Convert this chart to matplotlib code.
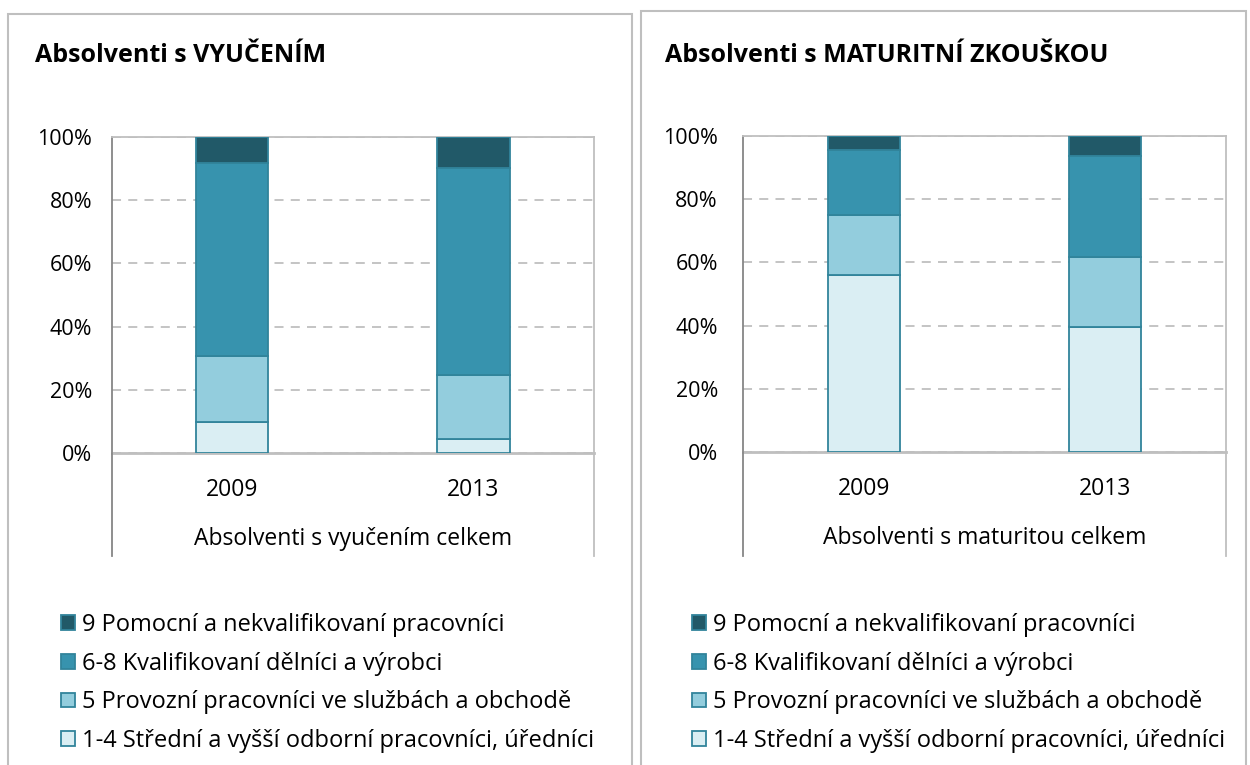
import matplotlib
matplotlib.use("Agg")
import matplotlib.pyplot as plt
from matplotlib.patches import Patch, Rectangle
from matplotlib.lines import Line2D
import numpy as np

plt.rcParams['font.family'] = ['Open Sans', 'DejaVu Sans']

years = ["2009", "2013"]
series_names = [
    "1-4 Střední a vyšší odborní pracovníci, úředníci",
    "5 Provozní pracovníci ve službách a obchodě",
    "6-8 Kvalifikovaní dělníci a výrobci",
    "9 Pomocní a nekvalifikovaní pracovníci",
]
# left panel: Absolventi s vyučením (percent)
vyuc_1_4 = [9.8, 4.3]
vyuc_5 = [20.9, 20.3]
vyuc_6_8 = [61.1, 65.5]
vyuc_9 = [8.2, 9.9]
# right panel: Absolventi s maturitou (percent)
mat_1_4 = [56.1, 39.7]
mat_5 = [18.9, 21.9]
mat_6_8 = [20.5, 32.2]
mat_9 = [4.5, 6.2]

titles = ["Absolventi s VYUČENÍM", "Absolventi s MATURITNÍ ZKOUŠKOU"]
group_labels = ["Absolventi s vyučením celkem", "Absolventi s maturitou celkem"]
yticks = [0, 20, 40, 60, 80, 100]
ytick_labels = ["0%", "20%", "40%", "60%", "80%", "100%"]

colors = ["#DAEEF3", "#93CDDD", "#3793AE", "#215968"]
edge = "#31849B"

W, H = 1250, 765
fig = plt.figure(figsize=(W / 100, H / 100), dpi=100)

def fx(px):
    return px / W

def fy(py):
    return 1 - py / H

# panel borders
for (x0, x1, y0) in [(8, 632, 14), (641, 1246, 11)]:
    fig.add_artist(Rectangle((fx(x0), fy(780)), fx(x1) - fx(x0), fy(y0) - fy(780),
                             transform=fig.transFigure, fill=False,
                             edgecolor="#BFBFBF", linewidth=1.5))

panels = [
    dict(data=[vyuc_1_4, vyuc_5, vyuc_6_8, vyuc_9], left=111.5, right=594, top=137, bottom=453,
         title_x=35, pad=14, legx=61),
    dict(data=[mat_1_4, mat_5, mat_6_8, mat_9], left=743, right=1226, top=136, bottom=452,
         title_x=665, pad=18, legx=692),
]

FS_TICK = 15.5
FS_CAT = 16.5
FS_LEG = 17

for i, p in enumerate(panels):
    ax = fig.add_axes([fx(p["left"]), fy(p["bottom"]), fx(p["right"]) - fx(p["left"]),
                       fy(p["top"]) - fy(p["bottom"])])
    x = np.arange(len(years))
    bottom = np.zeros(len(years))
    for vals, c in zip(p["data"], colors):
        v = np.array(vals)
        ax.bar(x, v, 0.3, bottom=bottom, color=c, edgecolor=edge, linewidth=1.3, zorder=3)
        bottom += v
    ax.set_xlim(-0.5, 1.5)
    ax.set_ylim(0, 100)
    ax.set_yticks(yticks)
    ax.set_yticklabels(ytick_labels)
    ax.set_xticks(x)
    ax.set_xticklabels(years)
    ax.tick_params(axis="both", length=0, labelsize=FS_TICK, colors="#000000")
    ax.tick_params(axis="x", labelsize=FS_CAT, pad=18)
    ax.tick_params(axis="y", pad=p["pad"])
    ax.yaxis.grid(True, linestyle=(0, (5, 4)), color="#BFBFBF", linewidth=1.3, zorder=0)
    ax.set_axisbelow(True)
    ax.spines["left"].set_color("#868686")
    ax.spines["left"].set_linewidth(1.3)
    for s in ["top", "right"]:
        ax.spines[s].set_color("#BFBFBF")
        ax.spines[s].set_linewidth(1.3)
    ax.spines["bottom"].set_color("#BFBFBF")
    ax.spines["bottom"].set_linewidth(2)
    ax.text(0.5, -(539 - 453) / 316, group_labels[i], transform=ax.transAxes,
            ha="center", va="center", fontsize=FS_CAT)
    # category-axis box lines extending below the plot
    fig.add_artist(Line2D([fx(p["left"]), fx(p["left"])], [fy(p["bottom"]), fy(556)],
                          transform=fig.transFigure, color="#868686", linewidth=1.3))
    fig.add_artist(Line2D([fx(p["right"]), fx(p["right"])], [fy(p["bottom"]), fy(556)],
                          transform=fig.transFigure, color="#BFBFBF", linewidth=1.3))
    fig.text(fx(p["title_x"]), fy(56), titles[i], fontsize=18, fontweight="bold",
             ha="left", va="center")
    handles = [Patch(facecolor=c, edgecolor=edge, linewidth=1.3) for c in colors][::-1]
    labels = series_names[::-1]
    fig.legend(handles, labels, loc="upper left", bbox_to_anchor=(fx(p["legx"]), fy(613)),
               frameon=False, fontsize=FS_LEG, handlelength=0.58, handleheight=0.58,
               handletextpad=0.3, labelspacing=0.62, borderpad=0, borderaxespad=0)

fig.savefig("out.png", dpi=100)
